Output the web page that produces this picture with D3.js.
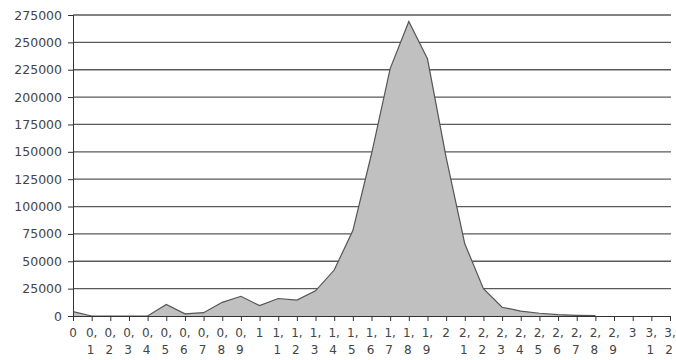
<!DOCTYPE html>
<html>
<head>
<meta charset="utf-8">
<script src="https://cdn.jsdelivr.net/npm/d3@7"></script>
<style>
  body { margin: 0; background: #fff; }
  text { font-family: "DejaVu Sans", sans-serif; fill: #444; }
</style>
</head>
<body>
<svg id="chart" width="676" height="360"></svg>
<script>
// tick labels along the bottom (decimal comma, wrapped on two lines)
var xLabels = ["0","0,1","0,2","0,3","0,4","0,5","0,6","0,7","0,8","0,9",
               "1","1,1","1,2","1,3","1,4","1,5","1,6","1,7","1,8","1,9",
               "2","2,1","2,2","2,3","2,4","2,5","2,6","2,7","2,8","2,9",
               "3","3,1","3,2"];
// one value per tick, starting at 0 and ending at 2,8
var values = [4000, 0, 0, 0, 0, 10500, 2000, 3000, 12500, 18000,
              9500, 16000, 14500, 23000, 42000, 78000, 148000, 226000, 269000, 235000,
              145000, 66000, 25000, 8000, 4500, 2500, 1200, 600, 300];
var yTicks = [0, 25000, 50000, 75000, 100000, 125000, 150000, 175000,
              200000, 225000, 250000, 275000];

var plotLeft = 73, plotRight = 670, plotTop = 15, plotBottom = 316;
var svg = d3.select("#chart");

var x = d3.scaleLinear().domain([0, xLabels.length - 1]).range([plotLeft, plotRight]);
var y = d3.scaleLinear().domain([0, 275000]).range([plotBottom, plotTop]);

// gridlines
svg.append("g").selectAll("line").data(yTicks.slice(1)).enter().append("line")
    .attr("x1", plotLeft).attr("x2", plotRight + 1)
    .attr("y1", d => y(d)).attr("y2", d => y(d))
    .attr("stroke", "#5a5a5a").attr("stroke-width", 1.3);

// area
var area = d3.area().x((d, i) => x(i)).y0(y(0)).y1(d => y(d));
var line = d3.line().x((d, i) => x(i)).y(d => y(d));
svg.append("path").datum(values).attr("d", area).attr("fill", "#c0c0c0");
svg.append("path").datum(values).attr("d", line)
    .attr("fill", "none").attr("stroke", "#555").attr("stroke-width", 1.2);

// y axis
var yAxis = svg.append("g").attr("transform", "translate(" + plotLeft + ",0)")
    .call(d3.axisLeft(y).tickValues(yTicks).tickSize(5).tickPadding(6).tickFormat(d3.format("d")));
yAxis.select(".domain").attr("stroke", "#333");
yAxis.selectAll(".tick line").attr("stroke", "#333");
yAxis.selectAll("text").style("font-size", "12.5px").style("fill", "#444")
    .style("font-family", "DejaVu Sans, sans-serif");

// x axis
var xAxis = svg.append("g").attr("transform", "translate(0," + plotBottom + ")")
    .call(d3.axisBottom(x).tickValues(d3.range(xLabels.length)).tickSize(5).tickFormat(""));
xAxis.select(".domain").attr("stroke", "#333");
xAxis.selectAll(".tick line").attr("stroke", "#333");

var lbl = svg.append("g").selectAll("text").data(xLabels).enter().append("text")
    .attr("text-anchor", "middle")
    .style("font-size", "12px");
lbl.each(function(d, i) {
    var parts = d.split(",");
    var t = d3.select(this);
    t.append("tspan").attr("x", x(i)).attr("y", plotBottom + 21)
        .text(parts.length > 1 ? parts[0] + "," : parts[0]);
    if (parts.length > 1)
        t.append("tspan").attr("x", x(i) - 1).attr("y", plotBottom + 38).text(parts[1]);
});
</script>
</body>
</html>
